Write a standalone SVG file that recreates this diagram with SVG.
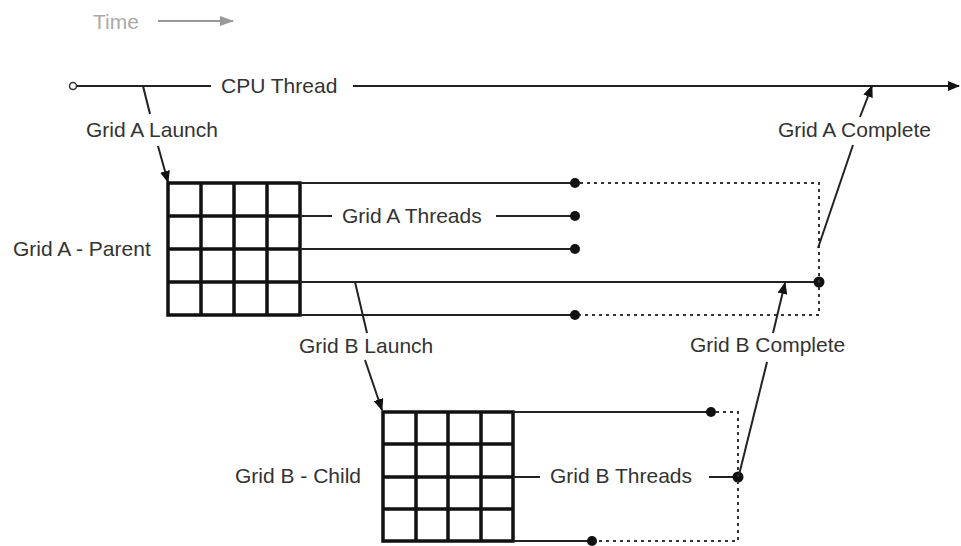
<svg xmlns="http://www.w3.org/2000/svg" width="961" height="546" viewBox="0 0 961 546">
<defs>
<marker id="ah" viewBox="0 0 12 10" refX="11" refY="5" markerWidth="12" markerHeight="10" markerUnits="userSpaceOnUse" orient="auto"><path d="M0,0 L12,5 L0,10 z" fill="#111"/></marker>
<marker id="ahg" viewBox="0 0 14 10" refX="13" refY="5" markerWidth="14" markerHeight="10" markerUnits="userSpaceOnUse" orient="auto"><path d="M0,0 L14,5 L0,10 z" fill="#999"/></marker>
<style>
text{font-family:"Liberation Sans",Arial,sans-serif;font-size:21px;fill:#333}
.ln{stroke:#222;stroke-width:2;fill:none}
.dt{stroke:#333;stroke-width:2;stroke-dasharray:3 4;fill:none}
.grid{stroke:#111;stroke-width:3.5;fill:none}
.dot{fill:#111}
</style>
</defs>
<g id="time">
<text x="93" y="29" style="fill:#aaa">Time</text>
<line x1="158" y1="21" x2="233" y2="21" stroke="#999" stroke-width="2" marker-end="url(#ahg)"/>
</g>
<g id="cpu-thread">
<circle cx="73" cy="86" r="3.5" fill="#fff" stroke="#333" stroke-width="1.5"/>
<line class="ln" x1="77" y1="86" x2="211" y2="86"/>
<text x="221" y="93">CPU Thread</text>
<line class="ln" x1="353" y1="86" x2="959" y2="86" marker-end="url(#ah)"/>
</g>
<g id="grid-a">
<rect class="grid" x="168" y="183" width="132" height="132"/>
<path class="grid" d="M201,183V315M234,183V315M267,183V315M168,216H300M168,249H300M168,282H300"/>
<text x="13" y="256">Grid A - Parent</text>
</g>
<g id="grid-a-threads">
<line class="ln" x1="300" y1="183" x2="575" y2="183"/>
<line class="ln" x1="300" y1="216" x2="332" y2="216"/>
<text x="342" y="223">Grid A Threads</text>
<line class="ln" x1="496" y1="216" x2="575" y2="216"/>
<line class="ln" x1="300" y1="249" x2="575" y2="249"/>
<line class="ln" x1="300" y1="282" x2="819" y2="282"/>
<line class="ln" x1="300" y1="315" x2="575" y2="315"/>
<circle class="dot" cx="575" cy="183" r="5"/>
<circle class="dot" cx="575" cy="216" r="5"/>
<circle class="dot" cx="575" cy="249" r="5"/>
<circle class="dot" cx="819" cy="282" r="5.5"/>
<circle class="dot" cx="575" cy="315" r="5"/>
<path class="dt" d="M580,183H819V315H580"/>
</g>
<g id="grid-b">
<rect class="grid" x="383" y="412" width="130" height="129"/>
<path class="grid" d="M416,412V541M448,412V541M481,412V541M383,444H513M383,477H513M383,509H513"/>
<text x="235" y="483">Grid B - Child</text>
</g>
<g id="grid-b-threads">
<line class="ln" x1="513" y1="412" x2="711" y2="412"/>
<line class="ln" x1="513" y1="477" x2="540" y2="477"/>
<text x="550" y="483">Grid B Threads</text>
<line class="ln" x1="709" y1="477" x2="738" y2="477"/>
<line class="ln" x1="513" y1="541" x2="592" y2="541"/>
<circle class="dot" cx="711" cy="412" r="5"/>
<circle class="dot" cx="738" cy="477" r="5.5"/>
<circle class="dot" cx="592" cy="541" r="5"/>
<path class="dt" d="M716,412H738V541H597"/>
</g>
<g id="connectors">
<line class="ln" x1="143" y1="86" x2="150" y2="114"/>
<line class="ln" x1="158" y1="146" x2="168" y2="182" marker-end="url(#ah)"/>
<line class="ln" x1="355" y1="282" x2="367" y2="333"/>
<line class="ln" x1="365" y1="360" x2="382" y2="410" marker-end="url(#ah)"/>
<line class="ln" x1="818" y1="248" x2="853" y2="145"/>
<line class="ln" x1="860" y1="117" x2="872" y2="86" marker-end="url(#ah)"/>
<line class="ln" x1="739" y1="475" x2="767" y2="362"/>
<line class="ln" x1="773" y1="333" x2="785" y2="283" marker-end="url(#ah)"/>
</g>
<g id="labels">
<text x="86" y="137">Grid A Launch</text>
<text x="778" y="137">Grid A Complete</text>
<text x="299" y="353">Grid B Launch</text>
<text x="690" y="352">Grid B Complete</text>
</g>
</svg>
